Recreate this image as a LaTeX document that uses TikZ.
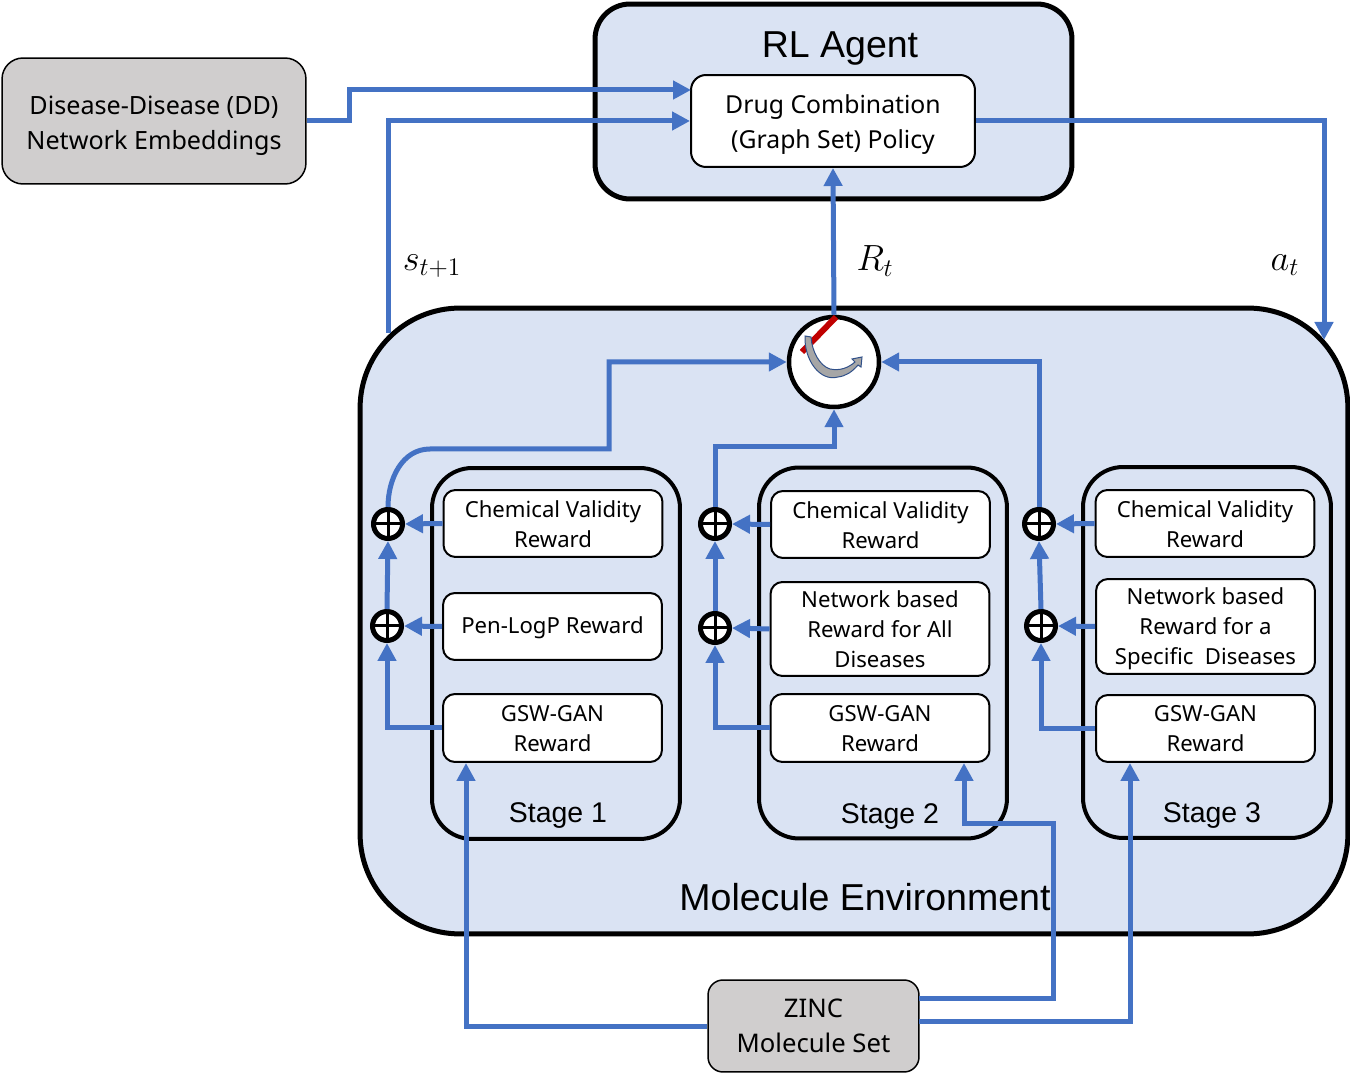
\documentclass[tikz,border=0pt]{standalone}
\usepackage{fontspec}
\setmainfont{Noto Sans}
\newfontfamily\arialfont{Liberation Sans}
\usetikzlibrary{arrows.meta}
\definecolor{panelblue}{HTML}{DAE3F3}
\definecolor{flowblue}{HTML}{4472C4}
\definecolor{boxgray}{HTML}{D0CECE}
\definecolor{dialred}{HTML}{C00000}
\tikzset{
textdrop/.style=
    {execute at begin node={\rule{0pt}{#1}}
    },
outerbox/.style=
    {draw=black,
    fill=panelblue,
    rectangle,
    line width=0.1cm
    },
stagebox/.style=
    {draw=black,
    rectangle,rounded corners=0.8cm,
    line width=0.08cm,
    minimum width=4.96cm,
    minimum height=7.42cm
    },
rewardbox/.style=
    {draw=black,
    fill=white,
    rectangle,rounded corners=0.24cm,
    line width=0.04cm,
    minimum width=4.38cm,
    inner sep=0pt,
    align=center,
    font=\fontsize{12.6}{17}\selectfont
    },
tworeward/.style=
    {rewardbox,
    textdrop=27pt
    },
graybox/.style=
    {draw=black,
    fill=boxgray,
    rectangle,rounded corners=0.42cm,
    line width=0.03cm,
    inner sep=0pt,
    align=center,
    font=\fontsize{14.3}{19.8}\selectfont
    },
plusnode/.style=
    {draw=black,
    fill=white,
    circle,
    line width=0.1cm,
    minimum size=0.58cm,
    inner sep=0pt,
    path picture={
    \draw[line width=0.06cm] (path picture bounding box.north) -- (path picture bounding box.south);
    \draw[line width=0.06cm] (path picture bounding box.west) -- (path picture bounding box.east);
    }
    },
flowline/.style=
    {draw=flowblue,
    line width=0.1cm,
    -{Triangle[length=0.36cm,width=0.36cm]}
    },
bigtitle/.style=
    {font=\arialfont\fontsize{21.35}{25}\selectfont,
    inner sep=0pt
    },
stagetitle/.style=
    {font=\arialfont\fontsize{16.2}{20}\selectfont,
    inner sep=0pt
    },
mathlabel/.style=
    {font=\fontsize{22.5}{26}\selectfont,
    inner sep=0pt
    }}

\begin{document}
\begin{tikzpicture}[x=0.02cm,y=-0.02cm]
\useasboundingbox (0,0) rectangle (1350,1077);

\node[outerbox,rounded corners=0.7cm,minimum width=9.54cm,minimum height=3.9cm] (agent) at (833.5,101.5) {};
\node[outerbox,rounded corners=2cm,minimum width=19.76cm,minimum height=12.52cm] (env) at (854,621) {};
\node[stagebox] (stage1) at (556,653.5) {};
\node[stagebox] (stage2) at (883,653) {};
\node[stagebox] (stage3) at (1207,652.5) {};

\node[bigtitle] (agenttitle) at (840,48) {RL Agent};
\node[bigtitle] (envtitle) at (865,897) {Molecule Environment};
\node[stagetitle] (stagetitle1) at (558,816) {Stage 1};
\node[stagetitle] (stagetitle2) at (890,817) {Stage 2};
\node[stagetitle] (stagetitle3) at (1212,816) {Stage 3};

\node[rewardbox,rounded corners=0.3cm,minimum width=5.68cm,minimum height=1.84cm,textdrop=34.4pt,font=\fontsize{14.1}{19.8}\selectfont] (policy) at (833,121) {Drug Combination\\(Graph Set) Policy};
\node[graybox,minimum width=6.08cm,minimum height=2.52cm,textdrop=35.4pt] (dd) at (154,121) {Disease-Disease (DD)\\Network Embeddings};
\node[graybox,rounded corners=0.3cm,minimum width=4.22cm,minimum height=1.84cm,textdrop=27pt,font=\fontsize{14.6}{19.8}\selectfont] (zinc) at (813.5,1026) {ZINC\\Molecule Set};

\node[tworeward,minimum height=1.34cm] (cv1) at (553,523.5) {Chemical Validity\\Reward};
\node[rewardbox,minimum height=1.34cm,textdrop=11.5pt] (pen1) at (552.5,626.5) {Pen-LogP Reward};
\node[tworeward,minimum height=1.36cm] (gsw1) at (552.5,728) {GSW-GAN\\Reward};
\node[tworeward,minimum height=1.34cm] (cv2) at (880.5,524.5) {Chemical Validity\\Reward};
\node[rewardbox,minimum height=1.88cm] (net2) at (880,629) {Network based\\Reward for All\\Diseases};
\node[tworeward,minimum height=1.36cm] (gsw2) at (880,728) {GSW-GAN\\Reward};
\node[tworeward,minimum height=1.34cm] (cv3) at (1205,523.5) {Chemical Validity\\Reward};
\node[rewardbox,minimum height=1.9cm,textdrop=46pt] (net3) at (1205.5,626.5) {Network based\\Reward for a\\Specific\ \ Diseases};
\node[rewardbox,minimum height=1.34cm] (gsw3) at (1205.5,728.5) {GSW-GAN\\Reward};

\node[plusnode] (plust1) at (388,524) {};
\node[plusnode] (plusb1) at (387,626) {};
\node[plusnode] (plust2) at (715,524) {};
\node[plusnode] (plusb2) at (715,628) {};
\node[plusnode] (plust3) at (1039,524) {};
\node[plusnode] (plusb3) at (1041,626) {};

\node[draw=black,fill=white,circle,line width=0.09cm,minimum size=1.8cm,inner sep=0pt] (mix) at (834,362) {};

\node[mathlabel] (stlabel) at (432,266) {$s_{t+1}$};
\node[mathlabel] (rtlabel) at (875,261) {$R_t$};
\node[mathlabel] (atlabel) at (1285,265) {$a_t$};

\coordinate (ddin) at (691,90);
\coordinate (envout) at (388,333);
\coordinate (envin) at (1324,340);
\coordinate (bendl) at (430,449);
\coordinate (zincup) at (919,998);
\coordinate (zinclow) at (919,1021);
\coordinate (gswin1) at (466,763);
\coordinate (gswin2) at (964,763);
\coordinate (gswin3) at (1130,763);

\draw[flowline] (dd.east) -- (349,121) -- (349,90) -- (ddin);
\draw[flowline] (envout) |- (policy.west);
\draw[flowline] (policy.east) -| (envin);
\draw[flowline] (mix.north) -- (policy.south);

\draw[flowline] (plust1.north) to[out=90,in=180] (bendl) -- (609,449) |- (mix.west);
\draw[flowline] (plust2.north) |- (834,447) -- (mix.south);
\draw[flowline] (plust3.north) |- (mix.east);

\draw[flowline] (cv1.west) -- (plust1.east);
\draw[flowline] (pen1.west) -- (plusb1.east);
\draw[flowline] (plusb1.north) -- (plust1.south);
\draw[flowline] (gsw1.west) -| (plusb1.south);
\draw[flowline] (cv2.west) -- (plust2.east);
\draw[flowline] (net2.west) -- (plusb2.east);
\draw[flowline] (plusb2.north) -- (plust2.south);
\draw[flowline] (gsw2.west) -| (plusb2.south);
\draw[flowline] (cv3.west) -- (plust3.east);
\draw[flowline] (net3.west) -- (plusb3.east);
\draw[flowline] (plusb3.north) -- (plust3.south);
\draw[flowline] (gsw3.west) -| (plusb3.south);

\draw[flowline] (zinc.west) -| (gswin1);
\draw[flowline] (zincup) -- (1053,998) -- (1053,824) -| (gswin2);
\draw[flowline] (zinclow) -| (gswin3);

\draw[dialred,line width=0.12cm] (836,317) -- (802,352);
\draw[fill=gray!70,draw=flowblue!70!black,line width=0.02cm] (805,336) .. controls (804,360) and (820,382) .. (838,377) .. controls (846,376) and (852,372) .. (858,365) -- (861,367) -- (862,357) -- (852,359) -- (855,362) .. controls (848,368) and (840,371) .. (830,369) .. controls (820,366) and (812,352) .. (811,337) -- cycle;
\end{tikzpicture}
\end{document}
